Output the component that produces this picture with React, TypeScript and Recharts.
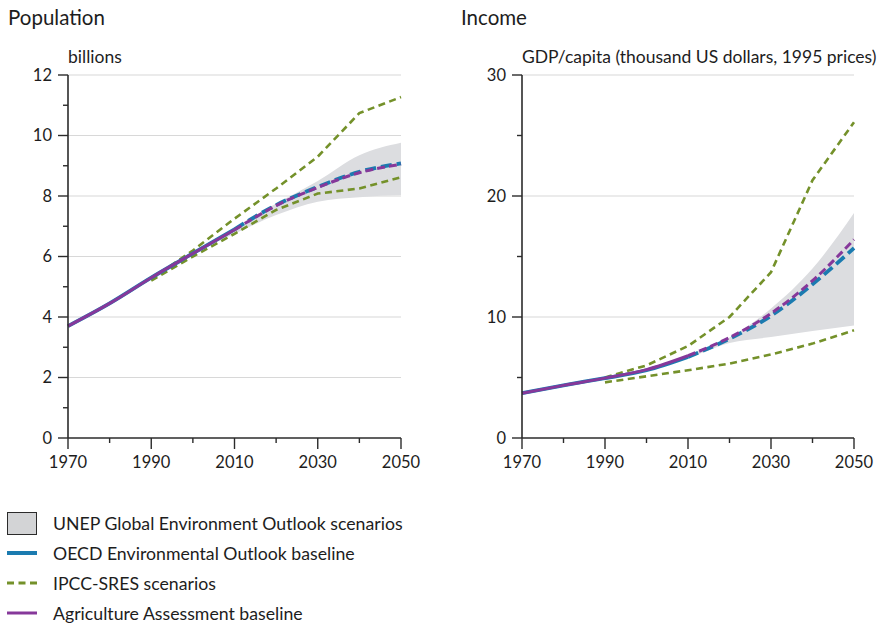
import { ComposedChart, Line, Area, XAxis, YAxis, CartesianGrid } from "recharts";

const FONT = "Lato, 'Open Sans', sans-serif";
const INK = "#1d1d1d";
const AXIS = "#2b2b2b";
const GRID = "#d8d8d8";
const BAND = "#dcdde0";
const OECD = "#1b7bb0";
const SRES = "#74912a";
const AGRI = "#86389a";

const years = [1970, 1980, 1990, 2000, 2010, 2020, 2030, 2040, 2050];
const yearLabels = [1970, 1990, 2010, 2030, 2050];

// population, billions
const popOecd = [3.7, 4.45, 5.3, 6.1, 6.9, 7.7, 8.3, 8.8, 9.08];
const popAgri = [3.7, 4.45, 5.3, 6.1, 6.88, 7.68, 8.28, 8.77, 9.05];
const popSresHigh = [null, null, 5.25, 6.2, 7.25, 8.25, 9.3, 10.74, 11.27];
const popSresLow = [null, null, 5.2, 6.0, 6.75, 7.54, 8.08, 8.25, 8.62];
const popGeoLow = [null, null, null, 6.1, 6.75, 7.37, 7.81, 7.96, 8.03];
const popGeoHigh = [null, null, null, 6.1, 6.95, 7.75, 8.5, 9.35, 9.76];
const popTicks = [0, 1, 2, 3, 4, 5, 6, 7, 8, 9, 10, 11, 12];
const popLabels = [0, 2, 4, 6, 8, 10, 12];

// GDP per capita, thousand US dollars (1995 prices)
const incOecd = [3.7, 4.35, 4.95, 5.6, 6.7, 8.2, 10.1, 12.7, 15.7];
const incAgri = [3.7, 4.35, 4.95, 5.65, 6.8, 8.3, 10.3, 13.0, 16.4];
const incSresHigh = [null, null, 5.0, 6.0, 7.6, 10.0, 13.7, 21.3, 26.1];
const incSresLow = [null, null, 4.6, 5.1, 5.6, 6.15, 6.9, 7.8, 8.9];
const incGeoLow = [null, null, null, 5.6, 6.6, 7.85, 8.35, 8.85, 9.3];
const incGeoHigh = [null, null, null, 5.6, 6.85, 8.3, 10.7, 14.0, 18.6];
const incTicks = [0, 5, 10, 15, 20, 25, 30];
const incLabels = [0, 10, 20, 30];

type Num = number | null;

function buildRows(oecd: Num[], agri: Num[], hi: Num[], lo: Num[], geoLo: Num[], geoHi: Num[]) {
  return years.map((year, i) => ({
    year,
    oecdHist: year <= 2010 ? oecd[i] : null,
    oecdProj: year >= 2010 ? oecd[i] : null,
    agriHist: year <= 2010 ? agri[i] : null,
    agriProj: year >= 2010 ? agri[i] : null,
    sresHigh: hi[i],
    sresLow: lo[i],
    geo: geoLo[i] == null ? null : [geoLo[i], geoHi[i]],
  }));
}

function YTick(props: any) {
  const { x, y, payload, labels } = props;
  const major = labels.includes(payload.value);
  return (
    <g>
      <line x1={x} x2={x - (major ? 10 : 5)} y1={y} y2={y} stroke={AXIS} strokeWidth={1.4} />
      {major && (
        <text x={x - 16} y={y} dy="0.36em" textAnchor="end" fontSize={16.5} fill={INK} fontFamily={FONT}>
          {payload.value}
        </text>
      )}
    </g>
  );
}

function XTick(props: any) {
  const { x, y, payload } = props;
  const major = yearLabels.includes(payload.value);
  return (
    <g>
      <line x1={x} x2={x} y1={y} y2={y + (major ? 11 : 5)} stroke={AXIS} strokeWidth={1.4} />
      {major && (
        <text x={x} y={y + 30} textAnchor="middle" fontSize={16.5} fill={INK} fontFamily={FONT}>
          {payload.value}
        </text>
      )}
    </g>
  );
}

interface PanelProps {
  rows: ReturnType<typeof buildRows>;
  width: number;
  axisWidth: number;
  right: number;
  max: number;
  ticks: number[];
  labels: number[];
}

function Panel({ rows, width, axisWidth, right, max, ticks, labels }: PanelProps) {
  return (
    <ComposedChart width={width} height={480} data={rows} margin={{ top: 75, right, bottom: 0, left: 0 }}>
      <CartesianGrid vertical={false} horizontalValues={labels.filter((v) => v > 0)} stroke={GRID} strokeWidth={1.2} />
      <XAxis
        dataKey="year"
        type="number"
        domain={[1970, 2050]}
        ticks={years}
        interval={0}
        height={42}
        tickSize={0}
        tickMargin={0}
        tickLine={false}
        axisLine={{ stroke: AXIS, strokeWidth: 1.6 }}
        tick={<XTick />}
      />
      <YAxis
        type="number"
        domain={[0, max]}
        ticks={ticks}
        interval={0}
        width={axisWidth}
        tickSize={0}
        tickMargin={0}
        tickLine={false}
        axisLine={{ stroke: AXIS, strokeWidth: 1.6 }}
        tick={<YTick labels={labels} />}
      />
      <Area type="monotone" dataKey="geo" stroke="none" fill={BAND} fillOpacity={1} isAnimationActive={false} />
      <Line type="linear" dataKey="sresHigh" stroke={SRES} strokeWidth={2.6} strokeDasharray="7 4.5" dot={false} isAnimationActive={false} />
      <Line type="linear" dataKey="sresLow" stroke={SRES} strokeWidth={2.6} strokeDasharray="7 4.5" dot={false} isAnimationActive={false} />
      <Line type="monotone" dataKey="oecdHist" stroke={OECD} strokeWidth={3.8} dot={false} isAnimationActive={false} />
      <Line type="monotone" dataKey="oecdProj" stroke={OECD} strokeWidth={3.8} strokeDasharray="11 5" dot={false} isAnimationActive={false} />
      <Line type="monotone" dataKey="agriHist" stroke={AGRI} strokeWidth={3} dot={false} isAnimationActive={false} />
      <Line type="monotone" dataKey="agriProj" stroke={AGRI} strokeWidth={3} strokeDasharray="8 4" dot={false} isAnimationActive={false} />
    </ComposedChart>
  );
}

const popRows = buildRows(popOecd, popAgri, popSresHigh, popSresLow, popGeoLow, popGeoHigh);
const incRows = buildRows(incOecd, incAgri, incSresHigh, incSresLow, incGeoLow, incGeoHigh);

const text = (left: number, top: number, size: number): React.CSSProperties => ({
  position: "absolute",
  left,
  top,
  fontSize: size,
  fontFamily: FONT,
  color: INK,
  whiteSpace: "nowrap",
  lineHeight: 1,
});

const legendRows = [
  { label: "UNEP Global Environment Outlook scenarios", kind: "band" },
  { label: "OECD Environmental Outlook baseline", kind: "oecd" },
  { label: "IPCC-SRES scenarios", kind: "sres" },
  { label: "Agriculture Assessment baseline", kind: "agri" },
];

function Swatch({ kind }: { kind: string }) {
  if (kind === "band") {
    return <div style={{ width: 28, height: 21, background: "#d3d4d6", border: `1.5px solid ${AXIS}` }} />;
  }
  if (kind === "sres") {
    return (
      <svg width={30} height={6}>
        <line x1={0} x2={30} y1={3} y2={3} stroke={SRES} strokeWidth={3} strokeDasharray="7 4.5" />
      </svg>
    );
  }
  return (
    <svg width={30} height={6}>
      <line x1={0} x2={30} y1={3} y2={3} stroke={kind === "oecd" ? OECD : AGRI} strokeWidth={kind === "oecd" ? 4 : 3} />
    </svg>
  );
}

export default function App() {
  return (
    <div style={{ position: "absolute", left: 0, top: 0, width: 878, height: 625, background: "#fff" }}>
      <div style={text(8, 7, 20.5)}>Population</div>
      <div style={text(461, 7, 20.5)}>Income</div>
      <div style={text(68, 47.5, 17.5)}>billions</div>
      <div style={text(522, 47.5, 17.5)}>GDP/capita (thousand US dollars, 1995 prices)</div>
      <div style={{ position: "absolute", left: 0, top: 0 }}>
        <Panel rows={popRows} width={430} axisWidth={68} right={29} max={12} ticks={popTicks} labels={popLabels} />
      </div>
      <div style={{ position: "absolute", left: 440, top: 0 }}>
        <Panel rows={incRows} width={438} axisWidth={82} right={24} max={30} ticks={incTicks} labels={incLabels} />
      </div>
      {legendRows.map((r, i) => (
        <div
          key={r.label}
          style={{ position: "absolute", left: 7, top: 508 + i * 30, height: 30, display: "flex", alignItems: "center" }}
        >
          <div style={{ width: 46, display: "flex", alignItems: "center" }}>
            <Swatch kind={r.kind} />
          </div>
          <span style={{ fontSize: 17.7, fontFamily: FONT, color: INK, whiteSpace: "nowrap" }}>{r.label}</span>
        </div>
      ))}
    </div>
  );
}
